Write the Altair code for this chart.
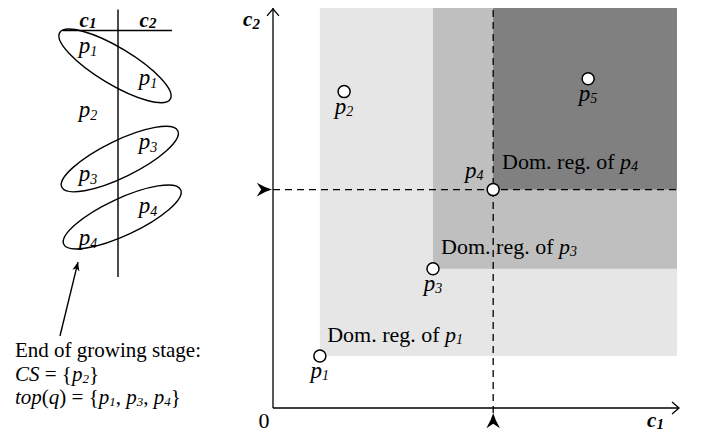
import math
import altair as alt
import pandas as pd

FONT = "Liberation Serif"

# ---------------- right panel data: the (c1, c2) plane ----------------
pt_names = ["1", "2", "3", "4", "5"]
pt_c1 = [11.6, 17.6, 39.6, 54.5, 78.0]
pt_c2 = [13.0, 79.1, 34.8, 54.6, 82.3]
topk = ["1", "3", "4"]                       # points whose dominance region is shaded
region_fill = ["#e6e6e6", "#bfbfbf", "#808080"]
region_lab_c1 = [13.4, 41.6, 56.7]           # where "Dom. reg. of p_k" is written
region_lab_c2 = [16.5, 38.5, 59.75]
C_MAX = 100.0
query_pt = "4"                               # dashed cross-hair point

# ---------------- left panel data: sorted access lists ----------------
entry_sym = ["1", "1", "2", "3", "3", "4", "4"]
entry_col = [1, 2, 1, 2, 1, 2, 1]            # 1 = c1 list, 2 = c2 list
entry_row = [1, 2, 3, 4, 5, 6, 7]
col_names = ["1", "2"]
ell_col = [1.45, 1.53, 1.57]                 # ellipses grouping both entries of a point
ell_row = [1.56, 4.47, 6.28]
ell_tilt = [31, 334, 335]
note_lines = [
    [("End of growing stage:", "reg")],
    [("CS", "it"), (" = {", "reg"), ("p", "it"), ("2", "sub"), ("}", "reg")],
    [("top", "it"), ("(", "reg"), ("q", "it"), (") = {", "reg"), ("p", "it"), ("1", "sub"),
     (", ", "reg"), ("p", "it"), ("3", "sub"), (", ", "reg"), ("p", "it"), ("4", "sub"), ("}", "reg")],
]
note_col, note_row0, note_step = -0.217, 10.66, 0.735
arrow_from = (0.533, 10.0)
arrow_to = (0.833, 7.69)

# ---------------- scales (pixel per unit of each panel) ----------------
LX, LY = 60.0, 32.0          # left panel: px per column unit / per row
RX, RY = 4.04, 4.0           # right panel: px per c1 / c2 unit
W, H = 693, 424
xs_L = alt.Scale(domain=[-1 / 3, -1 / 3 + W / LX], nice=False, zero=False)
ys_L = alt.Scale(domain=[-0.25, -0.25 + H / LY], nice=False, zero=False, reverse=True)
xs_R = alt.Scale(domain=[-265 / RX, -265 / RX + W / RX], nice=False, zero=False)
ys_R = alt.Scale(domain=[C_MAX - H / RY, C_MAX], nice=False, zero=False)

# ---------------- rich text helper ----------------
REG = {' ': .25, '(': .333, ')': .333, ',': .25, '.': .25, ':': .278, '=': .564, '{': .48,
       '}': .48, 'D': .722, 'E': .611, 'a': .444, 'd': .5, 'e': .444, 'f': .333, 'g': .5,
       'i': .278, 'm': .778, 'n': .5, 'o': .5, 'r': .333, 's': .389, 't': .278, 'w': .722}
IT = {' ': .25, 'C': .667, 'S': .5, 't': .278, 'o': .5, 'p': .5, 'q': .5, 'c': .444}


def seg_w(t, style, fs):
    tab = REG if style == "reg" else IT
    return sum(tab.get(ch, 0.5) for ch in t) * fs


def rich(segs, x0, y0, align, px_x, px_y, ydir, big=22, small=14, sub_dy=2, bold=False,
         base_dy=0):
    parts = []
    for t, s in segs:
        fs = small if s == "sub" else big
        st = "reg" if s == "reg" else ("bi" if bold else "it")
        dy = base_dy + (sub_dy if s == "sub" else 0)
        parts.append((t, st, fs, dy))
    widths = [seg_w(t, st, fs) for t, st, fs, dy in parts]
    off = -sum(widths) / 2 if align == "center" else 0.0
    rows = []
    for (t, st, fs, dy), w in zip(parts, widths):
        lead = len(t) - len(t.lstrip(" "))
        shift = lead * 0.25 * fs
        rows.append({"x": x0 + (off + shift) / px_x, "y": y0 + ydir * dy / px_y,
                     "text": t.strip(" "), "style": st, "fs": fs})
        off += w
    return rows


def text_layers(df, xs, ys):
    out = []
    for st, kw in [("reg", {}), ("it", {"fontStyle": "italic"}),
                   ("bi", {"fontStyle": "italic", "fontWeight": "bold"})]:
        sub = df[df["style"] == st]
        if len(sub) == 0:
            continue
        out.append(alt.Chart(sub).mark_text(font=FONT, align="left", baseline="alphabetic",
                                            color="black", **kw).encode(
            x=alt.X("x:Q", scale=xs, axis=None),
            y=alt.Y("y:Q", scale=ys, axis=None),
            text="text:N",
            size=alt.Size("fs:Q", scale=None)))
    return out


ELLIPSE = ("M-1,0C-1,-0.157,-0.552,-0.285,0,-0.285C0.552,-0.285,1,-0.157,1,0"
           "C1,0.157,0.552,0.285,0,0.285C-0.552,0.285,-1,0.157,-1,0Z")
CHEVRON = "M-1,-0.85L0,0L-1,0.85"
HEAD = "M0,0Q-0.9,-0.25,-1.9,-0.85L-1.35,0L-1.9,0.85Q-0.9,0.25,0,0Z"
SMALL_HEAD = "M0,0L-2.2,-0.9L-1.6,0L-2.2,0.9Z"

# ======================= LEFT PANEL =======================
lines_L = pd.DataFrame([
    {"x": 1.5, "x2": 1.5, "y": -0.2, "y2": 8.16},
    {"x": 0.583, "x2": 2.4, "y": 0.453, "y2": 0.453},
    {"x": arrow_from[0], "x2": arrow_to[0], "y": arrow_from[1], "y2": arrow_to[1]},
])
rule_L = alt.Chart(lines_L).mark_rule(color="black", strokeWidth=1.4).encode(
    x=alt.X("x:Q", scale=xs_L, axis=None), x2="x2:Q",
    y=alt.Y("y:Q", scale=ys_L, axis=None), y2="y2:Q")

ell_df = pd.DataFrame({"x": ell_col, "y": ell_row, "tilt": ell_tilt})
ell_L = alt.Chart(ell_df).mark_point(shape=ELLIPSE, filled=False, color="black", strokeWidth=1.4,
                                     size=16641, opacity=1).encode(
    x=alt.X("x:Q", scale=xs_L, axis=None), y=alt.Y("y:Q", scale=ys_L, axis=None),
    angle=alt.Angle("tilt:Q", scale=None))

ang = math.degrees(math.atan2((arrow_to[1] - arrow_from[1]) * LY, (arrow_to[0] - arrow_from[0]) * LX)) % 360
head_df = pd.DataFrame({"x": [arrow_to[0]], "y": [arrow_to[1]], "a": [ang]})
head_L = alt.Chart(head_df).mark_point(shape=SMALL_HEAD, filled=True, color="black", size=64,
                                       opacity=1).encode(
    x=alt.X("x:Q", scale=xs_L, axis=None), y=alt.Y("y:Q", scale=ys_L, axis=None),
    angle=alt.Angle("a:Q", scale=None))

txt_L = []
for c, n in zip([1, 2], col_names):
    txt_L += rich([("c", "it"), (n, "sub")], c, 0, "center", LX, LY, 1, big=21, small=15,
                  sub_dy=1, bold=True, base_dy=11)
for s, c, r in zip(entry_sym, entry_col, entry_row):
    txt_L += rich([("p", "it"), (s, "sub")], c, r, "center", LX, LY, 1, big=23, small=14,
                  sub_dy=3, base_dy=5)
for i, segs in enumerate(note_lines):
    txt_L += rich(segs, note_col, note_row0 + i * note_step, "left", LX, LY, 1, big=21,
                  small=13)
txt_L = pd.DataFrame(txt_L)

left = alt.layer(rule_L, ell_L, head_L, *text_layers(txt_L, xs_L, ys_L))

# ======================= RIGHT PANEL =======================
pts = pd.DataFrame({"name": pt_names, "c1": pt_c1, "c2": pt_c2})
P = {n: (a, b) for n, a, b in zip(pt_names, pt_c1, pt_c2)}

reg_df = pd.DataFrame({"c1": [P[k][0] for k in topk], "c2": [P[k][1] for k in topk],
                       "e1": C_MAX, "e2": C_MAX, "fill": region_fill})
rects = alt.Chart(reg_df).mark_rect(strokeWidth=0).encode(
    x=alt.X("c1:Q", scale=xs_R, axis=None), x2="e1:Q",
    y=alt.Y("c2:Q", scale=ys_R, axis=None), y2="e2:Q",
    color=alt.Color("fill:N", scale=None))

qx, qy = P[query_pt]
axes_df = pd.DataFrame([{"x": 0, "x2": 100.5, "y": 0, "y2": 0},
                        {"x": 0, "x2": 0, "y": 0, "y2": C_MAX}])
axes = alt.Chart(axes_df).mark_rule(color="black", strokeWidth=1.3).encode(
    x=alt.X("x:Q", scale=xs_R, axis=None), x2="x2:Q",
    y=alt.Y("y:Q", scale=ys_R, axis=None), y2="y2:Q")

dash_df = pd.DataFrame([{"x": 0, "x2": C_MAX, "y": qy, "y2": qy},
                        {"x": qx, "x2": qx, "y": -1.25, "y2": C_MAX}])
dashed = alt.Chart(dash_df).mark_rule(color="black", strokeWidth=1.3, strokeDash=[7, 5]).encode(
    x=alt.X("x:Q", scale=xs_R, axis=None), x2="x2:Q",
    y=alt.Y("y:Q", scale=ys_R, axis=None), y2="y2:Q")

chev_df = pd.DataFrame({"x": [100.5, 0], "y": [0, C_MAX - 0.2], "a": [0, 270]})
chev = alt.Chart(chev_df).mark_point(shape=CHEVRON, filled=False, color="black", strokeWidth=1.3,
                                     size=196, opacity=1).encode(
    x=alt.X("x:Q", scale=xs_R, axis=None), y=alt.Y("y:Q", scale=ys_R, axis=None),
    angle=alt.Angle("a:Q", scale=None))

heads_df = pd.DataFrame({"x": [-0.25, qx], "y": [qy, -1.25], "a": [0, 270]})
heads = alt.Chart(heads_df).mark_point(shape=HEAD, filled=True, color="black", size=256,
                                       opacity=1).encode(
    x=alt.X("x:Q", scale=xs_R, axis=None), y=alt.Y("y:Q", scale=ys_R, axis=None),
    angle=alt.Angle("a:Q", scale=None))

circles = alt.Chart(pts).mark_point(shape="circle", filled=True, fill="white", stroke="black",
                                    strokeWidth=1.5, size=145, opacity=1).encode(
    x=alt.X("c1:Q", scale=xs_R, axis=None), y=alt.Y("c2:Q", scale=ys_R, axis=None))

txt_R = []
for n, a, b in zip(pt_names, pt_c1, pt_c2):
    if n == query_pt:
        txt_R += rich([("p", "it"), (n, "sub")], a - 19 / RX, b + 12 / RY, "center", RX, RY, -1,
                      big=23, small=14)
    else:
        txt_R += rich([("p", "it"), (n, "sub")], a, b - 22 / RY, "center", RX, RY, -1,
                      big=23, small=14)
for k, a, b in zip(topk, region_lab_c1, region_lab_c2):
    txt_R += rich([("Dom. reg. of ", "reg"), ("p", "it"), (k, "sub")], a, b, "left", RX, RY, -1)
txt_R += rich([("c", "it"), ("1", "sub")], 92.6, -4.75, "left", RX, RY, -1, big=21, small=15,
              sub_dy=2, bold=True)
txt_R += rich([("c", "it"), ("2", "sub")], -7.4, 95.5, "left", RX, RY, -1, big=21, small=15,
              sub_dy=3, bold=True)
txt_R += rich([("0", "reg")], -2.23, -5.0, "center", RX, RY, -1)
txt_R = pd.DataFrame(txt_R)

right = alt.layer(rects, axes, dashed, chev, heads, circles, *text_layers(txt_R, xs_R, ys_R))

chart = alt.layer(left, right).resolve_scale(x="independent", y="independent").properties(
    width=W, height=H, padding=0, autosize=alt.AutoSizeParams(type="none"),
    background="white").configure_view(stroke=None)

chart.save("out.html", embed_options={"renderer": "svg", "actions": False})
